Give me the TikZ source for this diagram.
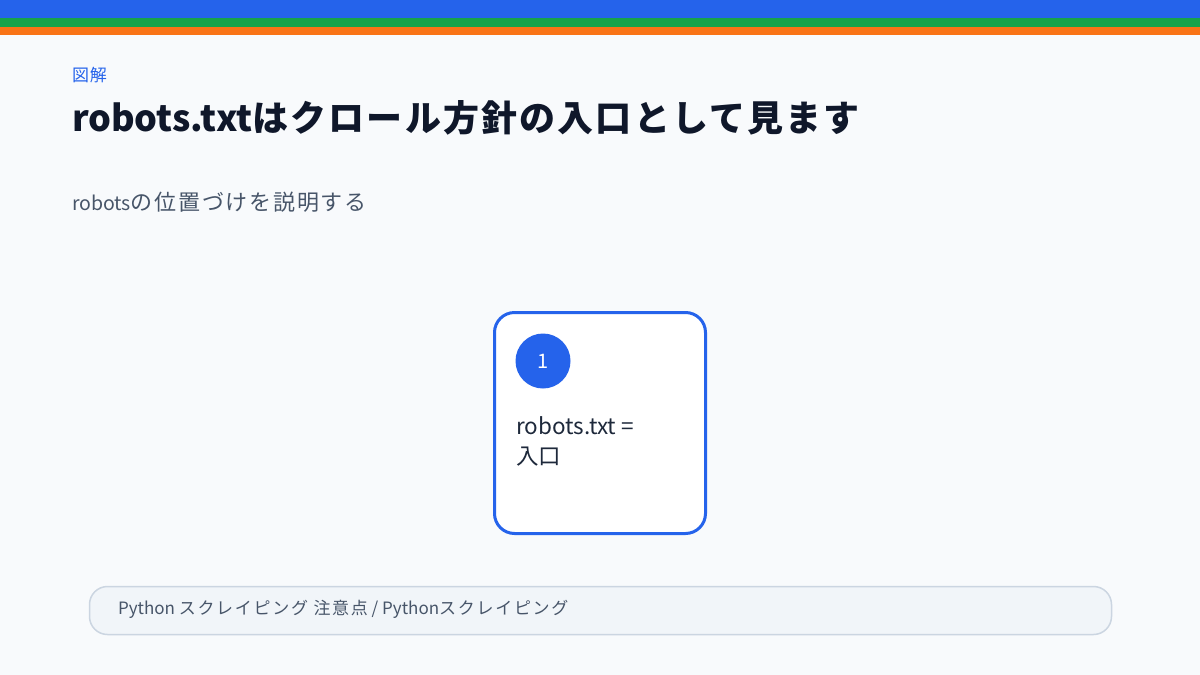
\documentclass[tikz,border=0pt]{standalone}
\usepackage{fontspec}
\setmainfont{Noto Sans CJK JP}
\definecolor{bg}{HTML}{F8FAFC}
\definecolor{blueA}{HTML}{2563EB}
\definecolor{greenA}{HTML}{16A34A}
\definecolor{orangeA}{HTML}{F97316}
\definecolor{ink}{HTML}{0F172A}
\definecolor{slate}{HTML}{475569}
\definecolor{footfill}{HTML}{F1F5F9}
\definecolor{footline}{HTML}{CBD5E1}
\definecolor{cardtext}{HTML}{1E293B}
\newcommand{\wide}[2]{{\addfontfeature{LetterSpace=#1}#2}}
\tikzset{
  txt/.style={inner sep=0pt, outer sep=0pt, anchor=base west},
  card/.style={draw=blueA, line width=3pt, fill=white, rounded corners=20pt},
  badge/.style={circle, fill=blueA, minimum size=55pt, inner sep=0pt, text=white, font=\fontsize{20pt}{24pt}\selectfont},
  footer/.style={draw=footline, line width=1.5pt, fill=footfill, rounded corners=18pt}
}
\begin{document}
\begin{tikzpicture}[x=1pt,y=-1pt]
\useasboundingbox (0,0) rectangle (1200,675);
\fill[bg] (0,0) rectangle (1200,675);
\fill[blueA] (0,0) rectangle (1200,18);
\fill[greenA] (0,18) rectangle (1200,27);
\fill[orangeA] (0,27) rectangle (1200,35);
\node[txt, text=blueA, font=\fontsize{17pt}{20pt}\selectfont] (kicker) at (72,81) {\wide{5}{図解}};
\node[txt, text=ink, font=\fontsize{36pt}{42pt}\selectfont\bfseries] (title) at (72,131) {robots.txt\wide{6}{はクロール方針の入口として見ます}};
\node[txt, text=slate, font=\fontsize{22pt}{26pt}\selectfont] (sub) at (72,210) {{\fontsize{19.5pt}{25pt}\selectfont robots}\wide{8}{の位置づけを説明する}};
\draw[card] (494.5,312.5) rectangle (705.5,533.5);
\node[badge] (b1) at (543,361) {1};
\node[txt, text=cardtext, font=\fontsize{22.5pt}{30pt}\selectfont] (l1) at (516,434) {robots.txt =};
\node[txt, text=cardtext, font=\fontsize{22.5pt}{30pt}\selectfont] (l2) at (516,464) {入口};
\draw[footer] (89.5,586.5) rectangle (1111.5,634.5);
\node[txt, text=slate, font=\fontsize{17pt}{20pt}\selectfont] (foot) at (118,614) {Python \wide{10}{スクレイピング 注意点} / Python\wide{10}{スクレイピング}};
\end{tikzpicture}
\end{document}
